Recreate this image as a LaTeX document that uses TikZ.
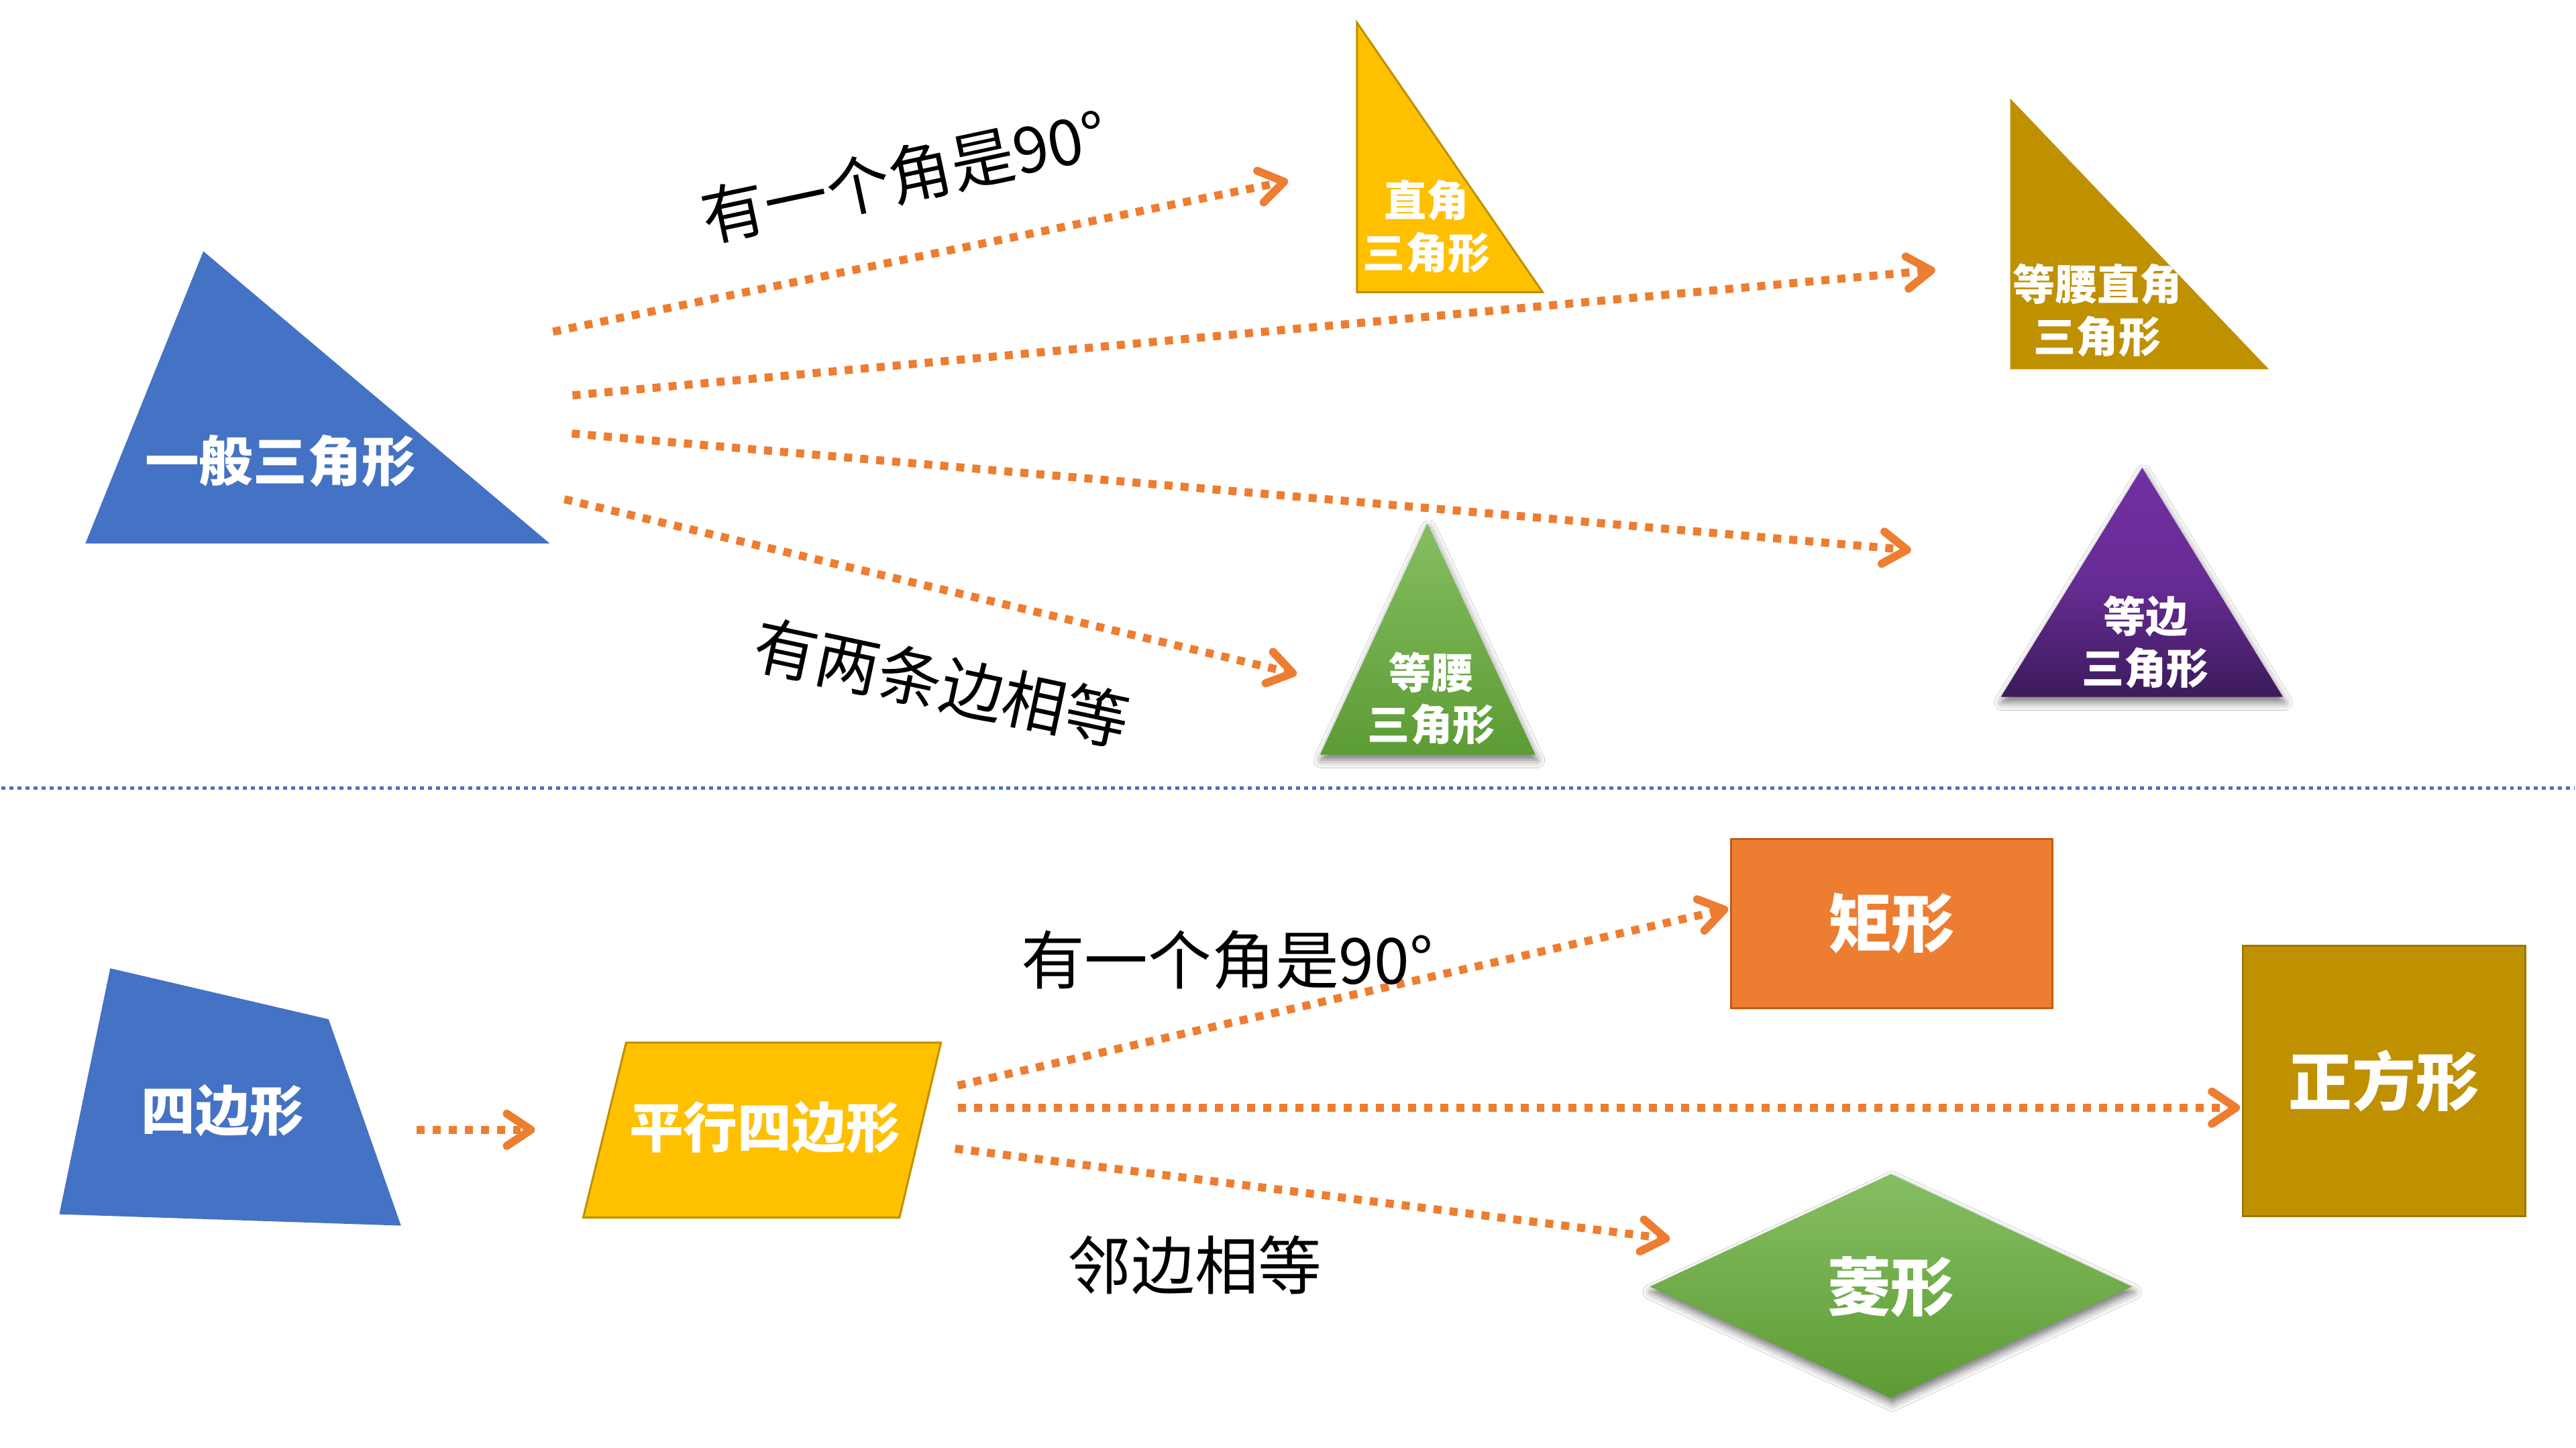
\documentclass[tikz,border=0pt]{standalone}
\usepackage{fontspec}
\newfontfamily\cjk{Noto Sans CJK SC}
\usetikzlibrary{
    arrows.meta,
    positioning,
    shadows.blur
}
\definecolor{ShapeBlue}{RGB}{68,114,196}
\definecolor{ShapeGold}{RGB}{255,192,0}
\definecolor{ShapeGoldLine}{RGB}{191,144,0}
\definecolor{ShapeOchre}{RGB}{191,144,0}
\definecolor{ShapeOchreLine}{RGB}{158,118,0}
\definecolor{ShapeOrange}{RGB}{237,125,49}
\definecolor{ShapeOrangeLine}{RGB}{197,90,17}
\definecolor{GreenTop}{RGB}{134,190,98}
\definecolor{GreenBot}{RGB}{92,156,52}
\definecolor{PurpleTop}{RGB}{114,48,162}
\definecolor{PurpleBot}{RGB}{60,27,92}
\tikzset{
  arr/.style       = {ShapeOrange, line width=0.12cm, dash pattern=on 0.12cm off 0.12cm,
                      -{Straight Barb[length=3.6mm,width=4.8mm,round]}},
  sep/.style       = {ShapeBlue, line width=0.05cm, dash pattern=on 0.06cm off 0.06cm},
  cond/.style      = {font=\cjk\fontsize{27}{32}\selectfont, inner sep=0pt},
  shapelbl/.style  = {font=\cjk\bfseries\fontsize{23}{28}\selectfont, text=white, inner sep=0pt},
  biglbl/.style    = {font=\cjk\bfseries\fontsize{27}{32}\selectfont, text=white},
  smalllbl/.style  = {font=\cjk\bfseries\fontsize{18}{22}\selectfont, text=white,
                      align=center, inner sep=0pt},
  softshadow/.style = {blur shadow={shadow xshift=0.02cm, shadow yshift=-0.08cm,
                      shadow blur radius=0.12cm, shadow opacity=55}}
}

\begin{document}
\begin{tikzpicture}
\fill[white] (0,0) rectangle (38.4,21.6);

% triangles
\fill[ShapeBlue] (1.25,13.49) -- (3.01,17.85) -- (8.18,13.49) -- cycle;
\node[shapelbl] (gen) at (4.16,14.72) {一般三角形};

\filldraw[fill=ShapeGold, draw=ShapeGoldLine, line width=0.03cm]
    (20.23,21.26) -- (20.23,17.24) -- (23.00,17.24) -- cycle;
\node[smalllbl] (right) at (21.27,18.22) {直角\\三角形};

\fill[ShapeOchre] (29.98,20.13) -- (29.98,16.09) -- (33.84,16.09) -- cycle;
\node[smalllbl] (isoright) at (31.28,16.97) {等腰直角\\三角形};

\path[softshadow, top color=PurpleTop, bottom color=PurpleBot, middle color=PurpleTop!80!PurpleBot]
    (31.95,14.62) -- (29.84,11.20) -- (34.05,11.20) -- cycle;
\node[smalllbl] (equi) at (32.00,12.02) {等边\\三角形};

\path[softshadow, top color=GreenTop, bottom color=GreenBot]
    (21.28,13.79) -- (19.68,10.34) -- (22.89,10.34) -- cycle;
\node[smalllbl] (iso) at (21.34,11.18) {等腰\\三角形};

\coordinate (a1s) at (8.23,16.65);  \coordinate (a1e) at (19.20,18.90);
\coordinate (a2s) at (8.52,15.70);  \coordinate (a2e) at (28.86,17.57);
\coordinate (a3s) at (8.51,15.13);  \coordinate (a3e) at (28.50,13.39);
\coordinate (a4s) at (8.40,14.15);  \coordinate (a4e) at (19.33,11.54);
\draw[arr] (a1s) -- (a1e);
\draw[arr] (a2s) -- (a2e);
\draw[arr] (a3s) -- (a3e);
\draw[arr] (a4s) -- (a4e);

\node[cond, rotate=12]  (right90) at (13.47,18.98) {有一个角是90°};
\node[cond, rotate=-12] (twoeq)   at (14.03,11.41) {有两条边相等};

% divider
\coordinate (sepL) at (0,9.84);
\coordinate (sepR) at (38.4,9.84);
\draw[sep] (sepL) -- (sepR);

% quadrilaterals
\fill[ShapeBlue] (1.62,7.15) -- (4.88,6.39) -- (5.96,3.31) -- (0.86,3.48) -- cycle;
\node[shapelbl] (quad) at (3.30,5.03) {四边形};

\filldraw[fill=ShapeGold, draw=ShapeGoldLine, line width=0.03cm]
    (9.32,6.04) -- (14.02,6.04) -- (13.40,3.43) -- (8.68,3.43) -- cycle;
\node[shapelbl] (para) at (11.39,4.78) {平行四边形};

\node[biglbl, fill=ShapeOrange, draw=ShapeOrangeLine, line width=0.03cm,
      minimum width=4.8cm, minimum height=2.52cm] (rect) at (28.21,7.82) {矩形};
\node[biglbl, fill=ShapeOchre, draw=ShapeOchreLine, line width=0.03cm,
      minimum width=4.22cm, minimum height=4.04cm] (square) at (35.56,5.47) {正方形};

\path[softshadow, top color=GreenTop, bottom color=GreenBot]
    (28.20,4.08) -- (31.80,2.40) -- (28.20,0.74) -- (24.60,2.40) -- cycle;
\node[biglbl] (rhombus) at (28.20,2.40) {菱形};

\coordinate (b0s) at (6.19,4.74);   \coordinate (b0e) at (7.96,4.74);
\coordinate (b1s) at (14.27,5.40);  \coordinate (b1e) at (25.77,8.04);
\coordinate (b2s) at (14.27,5.07);  \coordinate (b2e) at (33.41,5.07);
\coordinate (b3s) at (14.23,4.46);  \coordinate (b3e) at (24.90,3.11);
\draw[arr] (b0s) -- (b0e);
\draw[arr] (b1s) -- (b1e);
\draw[arr] (b2s) -- (b2e);
\draw[arr] (b3s) -- (b3e);

\node[cond] (rect90) at (18.29,7.27) {有一个角是90°};
\node[cond] (adjeq)  at (17.81,2.72) {邻边相等};
\end{tikzpicture}
\end{document}
